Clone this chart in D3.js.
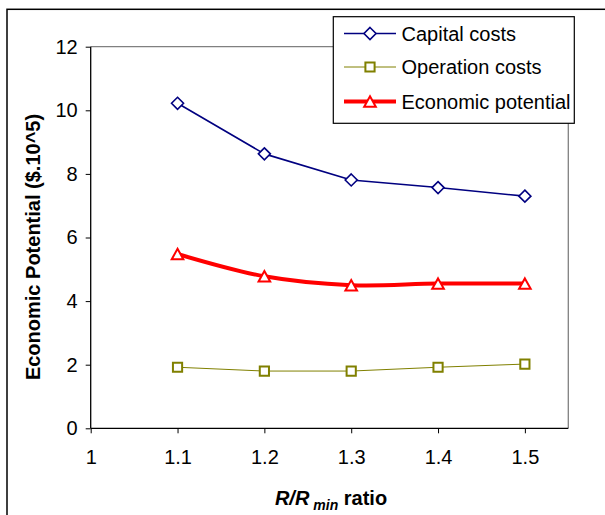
<!DOCTYPE html>
<html><head><meta charset="utf-8">
<script src="https://cdn.jsdelivr.net/npm/d3@7"></script>
<style>body{margin:0;background:#fff}svg{display:block;font-family:Arial,"Liberation Sans",sans-serif}</style>
</head><body>
<svg id="c" width="605" height="515"></svg>
<script>
const ratios = [1.1, 1.2, 1.3, 1.4, 1.5];
const capitalCosts = [10.22, 8.63, 7.81, 7.57, 7.30];
const operationCosts = [1.92, 1.80, 1.80, 1.92, 2.02];
const economicPotential = [5.48, 4.78, 4.50, 4.55, 4.55];
const xTicks = [1, 1.1, 1.2, 1.3, 1.4, 1.5];
const yTicks = [0, 2, 4, 6, 8, 10, 12];
const seriesNames = ["Capital costs", "Operation costs", "Economic potential"];

const svg = d3.select("#c");
const L = 90.7, R = 568.3, T = 46.7, B = 428.3;
const x = d3.scaleLinear().domain([1, 1.55]).range([L, R]);
const y = d3.scaleLinear().domain([0, 12]).range([B, T]);
const FS = 20;

// outer frame
svg.append("rect").attr("x", 7).attr("y", 9.3).attr("width", 700).attr("height", 700)
  .attr("fill", "none").attr("stroke", "#000").attr("stroke-width", 1.5);

// plot border (top/right gray)
svg.append("path").attr("d", `M${L},${T}H${R}V${B}`).attr("fill", "none").attr("stroke", "#808080").attr("stroke-width", 1.3);

// axes
const yAx = svg.append("g").attr("transform", `translate(${L},0)`)
  .call(d3.axisLeft(y).tickValues(yTicks).tickSize(5).tickPadding(8).tickFormat(d3.format("d")));
const xAx = svg.append("g").attr("transform", `translate(0,${B})`)
  .call(d3.axisBottom(x).tickValues(xTicks).tickSize(5).tickPadding(17).tickFormat(d => String(d)));
[yAx, xAx].forEach(g => {
  g.select(".domain").attr("stroke", "#000").attr("stroke-width", 1.3);
  g.selectAll(".tick line").attr("stroke", "#000");
  g.selectAll("text").attr("font-size", FS).attr("fill", "#000").attr("font-family", "Arial, 'Liberation Sans', sans-serif");
});
xAx.select(".domain").attr("d", `M${L},0H${R}`);
yAx.select(".domain").attr("d", `M0,${B}V${T}`);

// axis titles
svg.append("text").attr("transform", `translate(40,247) rotate(-90)`).attr("text-anchor", "middle")
  .attr("font-size", FS).attr("font-weight", "bold").text("Economic Potential ($.10^5)");
const xt = svg.append("text").attr("x", 331).attr("y", 505).attr("text-anchor", "middle")
  .attr("font-size", FS).attr("font-weight", "bold");
xt.append("tspan").attr("font-style", "italic").text("R/R");
xt.append("tspan").attr("font-style", "italic").attr("font-size", 14).attr("dy", 5).attr("dx", 4).text("min");
xt.append("tspan").attr("dy", -5).text(" ratio");

// marker shapes
const diamond = "M0,-6L6,0L0,6L-6,0Z";
const square = "M-4.6,-4.6H4.6V4.6H-4.6Z";
const triangle = "M0,-5.2L5.8,5.2H-5.8Z";

const series = [
  {vals: capitalCosts, color: "#000080", width: 1.6, curve: d3.curveLinear, sym: diamond, sw: 1.6},
  {vals: operationCosts, color: "#808000", width: 1, curve: d3.curveLinear, sym: square, sw: 2},
  {vals: economicPotential, color: "#ff0000", width: 4, curve: d3.curveCatmullRom.alpha(0), sym: triangle, sw: 2}
];
series.forEach(s => {
  const pts = ratios.map((r, i) => [r, s.vals[i]]);
  svg.append("path").datum(pts)
    .attr("d", d3.line().x(d => x(d[0])).y(d => y(d[1])).curve(s.curve))
    .attr("fill", "none").attr("stroke", s.color).attr("stroke-width", s.width).attr("stroke-linejoin", "round");
  svg.append("g").selectAll("path").data(pts).join("path")
    .attr("transform", d => `translate(${x(d[0])},${y(d[1])})`)
    .attr("d", s.sym).attr("fill", "#fff").attr("stroke", s.color).attr("stroke-width", s.sw);
});

// legend
const lg = svg.append("g");
lg.append("rect").attr("x", 333.3).attr("y", 16.7).attr("width", 241).attr("height", 106.6)
  .attr("fill", "#fff").attr("stroke", "#000").attr("stroke-width", 1.2);
const rowsY = [33.5, 67, 101.5];
series.forEach((s, i) => {
  const yy = rowsY[i];
  lg.append("line").attr("x1", 344).attr("x2", 396).attr("y1", yy).attr("y2", yy)
    .attr("stroke", s.color).attr("stroke-width", s.width);
  lg.append("path").attr("transform", `translate(370,${yy})`).attr("d", s.sym)
    .attr("fill", "#fff").attr("stroke", s.color).attr("stroke-width", s.sw);
  lg.append("text").attr("x", 401.5).attr("y", yy).attr("dy", "0.35em")
    .attr("font-size", FS).attr("fill", "#000").text(seriesNames[i]);
});
</script>
</body></html>
